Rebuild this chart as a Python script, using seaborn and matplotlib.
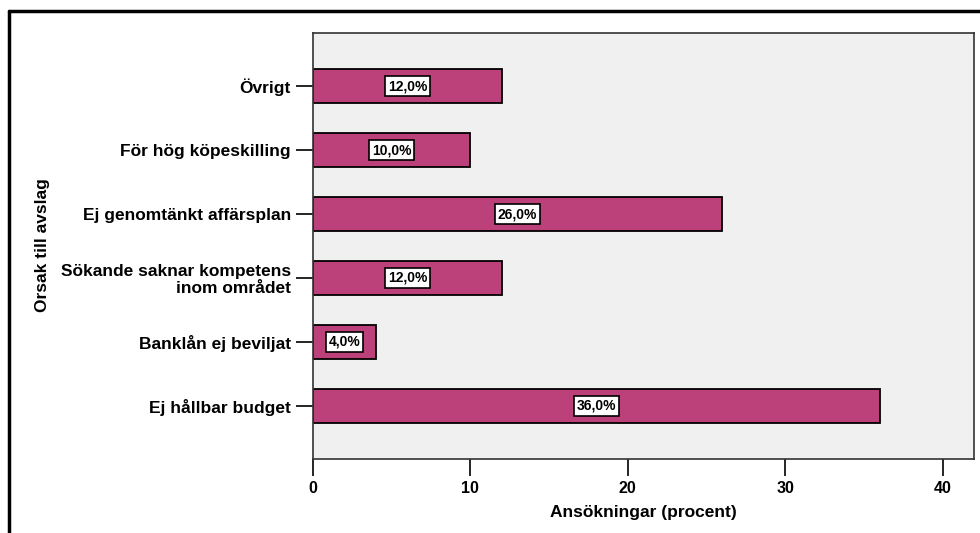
import matplotlib
matplotlib.use("Agg")
import matplotlib.pyplot as plt
import seaborn as sns
import pandas as pd
from matplotlib.lines import Line2D

# Dati
orsaker = ["Övrigt", "För hög köpeskilling", "Ej genomtänkt affärsplan",
           "Sökande saknar kompetens\ninom området", "Banklån ej beviljat",
           "Ej hållbar budget"]
procent = [12.0, 10.0, 26.0, 12.0, 4.0, 36.0]
etiketter = ["12,0%", "10,0%", "26,0%", "12,0%", "4,0%", "36,0%"]
xticks = [0, 10, 20, 30, 40]

df = pd.DataFrame({"Orsak": orsaker, "Procent": procent})

sns.set_theme(style="white")
plt.rcParams['font.family'] = ['Liberation Sans', 'DejaVu Sans']
plt.rcParams['font.weight'] = 'bold'

fig = plt.figure(figsize=(9.8, 5.33), dpi=100)
ax = fig.add_axes([313 / 980, 74 / 533, 661 / 980, 426 / 533])
ax.set_facecolor("#F0F0F0")

sns.barplot(data=df, y="Orsak", x="Procent", color="#BC4079", width=0.52,
            edgecolor="black", linewidth=1.3, saturation=1, ax=ax, orient="h")

# Etichette con i valori al centro delle barre
for i, (v, t) in enumerate(zip(procent, etiketter)):
    ax.text(v / 2, i, t, ha="center", va="center", fontsize=10, weight="bold",
            color="black",
            bbox=dict(boxstyle="square,pad=0.2", fc="white", ec="black", lw=1.2))

ax.set_xlim(0, 42)
ax.set_ylim(5.83, -0.83)
ax.set_xticks(xticks)
ax.set_xticklabels([str(x) for x in xticks], fontsize=11.5, weight="bold", color="black")
ax.set_yticks(range(len(orsaker)))
ax.set_yticklabels(orsaker, fontsize=12.5, weight="bold", linespacing=1.1, color="black")
ax.tick_params(axis="both", which="both", direction="out", length=12, width=1.2,
               color="black", left=True, bottom=True)
ax.tick_params(axis="x", pad=4)
ax.tick_params(axis="y", pad=4)
ax.set_xlabel("")
ax.set_ylabel("")

fig.text(643 / 980, 1 - 513 / 533, "Ansökningar (procent)", ha="center", va="center",
         fontsize=12.5, weight="bold", color="black")
fig.text(43 / 980, 1 - 245 / 533, "Orsak till avslag", ha="center", va="center",
         rotation=90, fontsize=12.5, weight="bold", color="black")

for s in ax.spines.values():
    s.set_visible(True)
    s.set_color("#333333")
    s.set_linewidth(1.2)

# Cornice esterna
fig.add_artist(Line2D([9 / 980, 9 / 980], [0, 1 - 11 / 533], color="black", lw=2.5,
                      transform=fig.transFigure))
fig.add_artist(Line2D([9 / 980, 1], [1 - 11 / 533, 1 - 11 / 533], color="black", lw=2.5,
                      transform=fig.transFigure))

fig.savefig("out.png", dpi=100)
